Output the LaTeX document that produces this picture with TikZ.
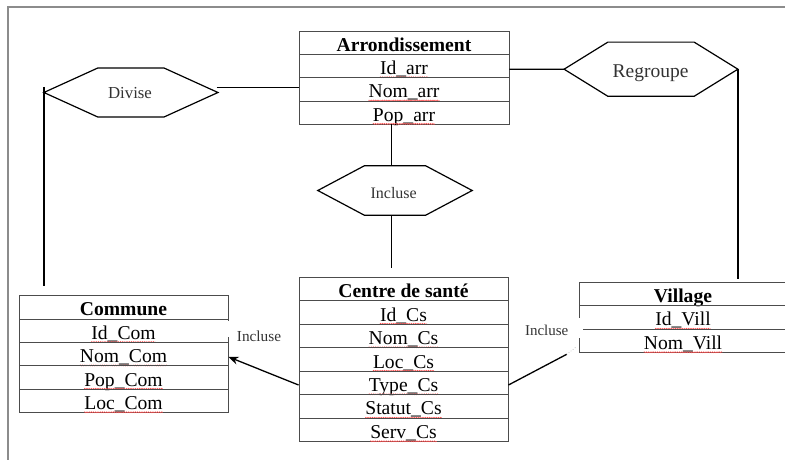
\documentclass[tikz,border=0pt]{standalone}
\usepackage{fontspec}
\setmainfont{Liberation Serif}
\usetikzlibrary{decorations.pathmorphing, arrows.meta}

\newcommand\entity[6]{% #1 prefix, #2 x centre, #3 y top, #4 width, #5 row height, #6 texts
  \foreach \txt [count=\i] in {#6} {
    \node[rowbox, minimum width=#4, minimum height=#5] (#1\i) at (#2, {#3+(\i-0.5)*#5}) {};
    \node[entxt, anchor=base] (#1t\i) at ([yshift=3.7pt]#1\i.south) {\ifnum\i=1 \bfseries\fi\txt};
    \ifnum\i>1
      \draw[squig] ([yshift=-2.8pt]#1t\i.base west) -- ([yshift=-2.8pt]#1t\i.base east);
    \fi
  }
}

\begin{document}
\begin{tikzpicture}[x=1pt, y=-1pt,
  rowbox/.style={draw=black!70, line width=0.9pt, inner sep=0pt},
  entxt/.style={inner sep=0pt, font=\fontsize{19.6}{22}\selectfont},
  squig/.style={draw=red!70, line width=0.5pt, decorate,
    decoration={snake, amplitude=0.55pt, segment length=2.2pt}},
  hexbox/.style={inner sep=0pt},
  hexline/.style={draw=black, line width=1.2pt, line join=miter},
  hexlab/.style={inner sep=0pt, text=black!80},
  link/.style={draw=black, line width=1.3pt},
  frame/.style={draw=black!45, line width=1.5pt}]
\useasboundingbox (0,0) rectangle (785,460);
\draw[frame] (8,460) -- (8,7) -- (785,7);

% entities
\entity{arr}{404}{31}{210}{23.33}{Arrondissement, Id\_arr, Nom\_arr, Pop\_arr}
\entity{cs}{403.5}{277.3}{209}{23.49}{Centre de santé, Id\_Cs, Nom\_Cs, Loc\_Cs, Type\_Cs, Statut\_Cs, Serv\_Cs}
\entity{com}{123.5}{295.7}{209}{23.4}{Commune, Id\_Com, Nom\_Com, Pop\_Com, Loc\_Com}
\entity{vil}{683}{282.3}{208}{23.47}{Village, Id\_Vill, Nom\_Vill}

% relation hexagons
\node[hexbox, minimum width=173.7, minimum height=48.4] (div) at (130.9,92.5) {};
\node[hexbox, minimum width=154, minimum height=49] (inc) at (395,190.5) {};
\node[hexbox, minimum width=173.4, minimum height=53.7] (reg) at (651,69.2) {};
\foreach \h/\d in {div/53.7, inc/46.5, reg/43.7} {
  \draw[hexline] (\h.west) -- ([xshift=\d pt]\h.north west) -- ([xshift=-\d pt]\h.north east)
    -- (\h.east) -- ([xshift=-\d pt]\h.south east) -- ([xshift=\d pt]\h.south west) -- cycle;
}
\node[hexlab, anchor=base, font=\fontsize{16.8}{18}\selectfont] (divt) at (130,98.3) {Divise};
\node[hexlab, anchor=base, font=\fontsize{16}{18}\selectfont] (inct) at (393.7,198.3) {Incluse};
\node[hexlab, anchor=base, font=\fontsize{19.5}{22}\selectfont] (regt) at (650.5,77.7) {Regroupe};

% side labels
\fill[white] (225.5,320.5) rectangle (231,337.3);
\fill[white] (576.5,317.5) rectangle (582.5,338);
\node[hexlab, anchor=base, font=\fontsize{15.3}{17}\selectfont] (lcom) at (259,341) {Incluse};
\node[hexlab, anchor=base, font=\fontsize{15}{17}\selectfont] (lvil) at (546.7,335) {Incluse};

% connectors
\coordinate (dvtop) at (44,87);
\draw[link, shorten >=9pt] (dvtop) -- (dvtop |- com1.north);
\coordinate (dvr) at (216.7,87.3);
\draw[link] (dvr) -- (dvr -| arr3.west);
\draw[link] ([yshift=-3.3pt]arr2.east) -- (reg.west);
\draw[link, shorten >=3pt] (reg.east) -- (reg.east |- vil1.north);
\coordinate (pa) at (391.7,124.3);
\draw[link] (pa) -- (pa |- inc.north);
\draw[link, shorten >=9.3pt] (pa |- inc.south) -- (pa |- cs1.north);
\draw[link, -{Stealth[length=10pt, width=8pt]}] ([yshift=-2pt]cs5.west) -- ([yshift=-2.7pt]com3.east);
\coordinate (vl) at (566.7,354.3);
\draw[link] ([yshift=-2pt]cs5.east) -- (vl);
\draw[black!40, line width=0.6pt, dotted] (vl) -- ++(9,-7);
\end{tikzpicture}
\end{document}
